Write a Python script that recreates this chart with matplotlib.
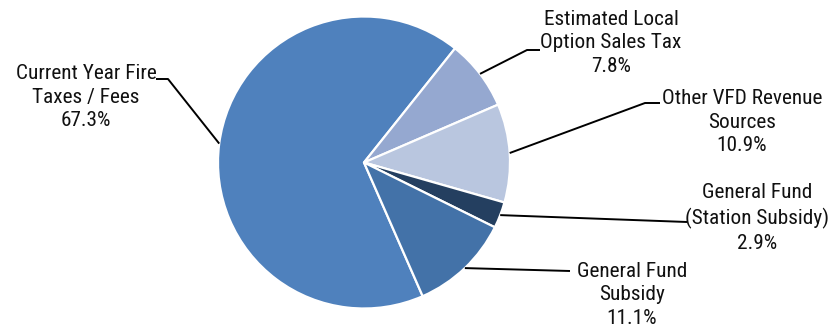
import matplotlib
matplotlib.use("Agg")
import matplotlib.pyplot as plt
import numpy as np
from matplotlib import font_manager

labels = ["Current Year Fire\nTaxes / Fees", "Estimated Local\nOption Sales Tax",
          "Other VFD Revenue\nSources", "General Fund\n(Station Subsidy)",
          "General Fund\nSubsidy"]
values = [67.3, 7.8, 10.9, 2.9, 11.1]
colors = ["#4F81BD", "#95A8D0", "#B9C6DF", "#243F60", "#4372A8"]

names = {f.name for f in font_manager.fontManager.ttflist}
fam = ["Roboto Condensed", "Archivo Narrow", "Liberation Sans", "DejaVu Sans"]
fam = [f for f in fam if f in names] or ["DejaVu Sans"]
plt.rcParams["font.family"] = fam

W, H = 833, 329
fig = plt.figure(figsize=(W / 100, H / 100), dpi=100)
ax = fig.add_axes([0, 0, 1, 1])
ax.set_xlim(0, W)
ax.set_ylim(0, H)
ax.set_aspect("equal")
ax.axis("off")

cx, cy, R = 364, H - 162.5, 146
wedges, _ = ax.pie(values, colors=colors, startangle=-66.3, counterclock=False,
                   center=(cx, cy), radius=R,
                   wedgeprops=dict(edgecolor="white", linewidth=1.6))
ax.set_xlim(0, W)
ax.set_ylim(0, H)

# label layout: (text center x, text center y (top-down px), elbow point, line end)
layout = [
    (86, 97, (168, 79), (156, 79)),
    (611, 43, (527, 50), (540, 50)),
    (742, 122, (645, 103), (660, 103)),
    (757, 218, None, (687, 222)),
    (632, 295, None, (570, 271)),
]

for w, lab, v, (tx, ty, elbow, end) in zip(wedges, labels, values, layout):
    mid = np.deg2rad((w.theta1 + w.theta2) / 2)
    sx, sy = cx + R * np.cos(mid), cy + R * np.sin(mid)
    pts = [(sx, sy)]
    if elbow is not None:
        pts.append((elbow[0], H - elbow[1]))
    pts.append((end[0], H - end[1]))
    xs, ys = zip(*pts)
    ax.plot(xs, ys, color="black", lw=1.4, solid_capstyle="butt")
    ax.text(tx, H - ty, f"{lab}\n{v:.1f}%", ha="center", va="center",
            fontsize=15.3, color="#111111", linespacing=1.32)

fig.savefig("out.png", dpi=100)
